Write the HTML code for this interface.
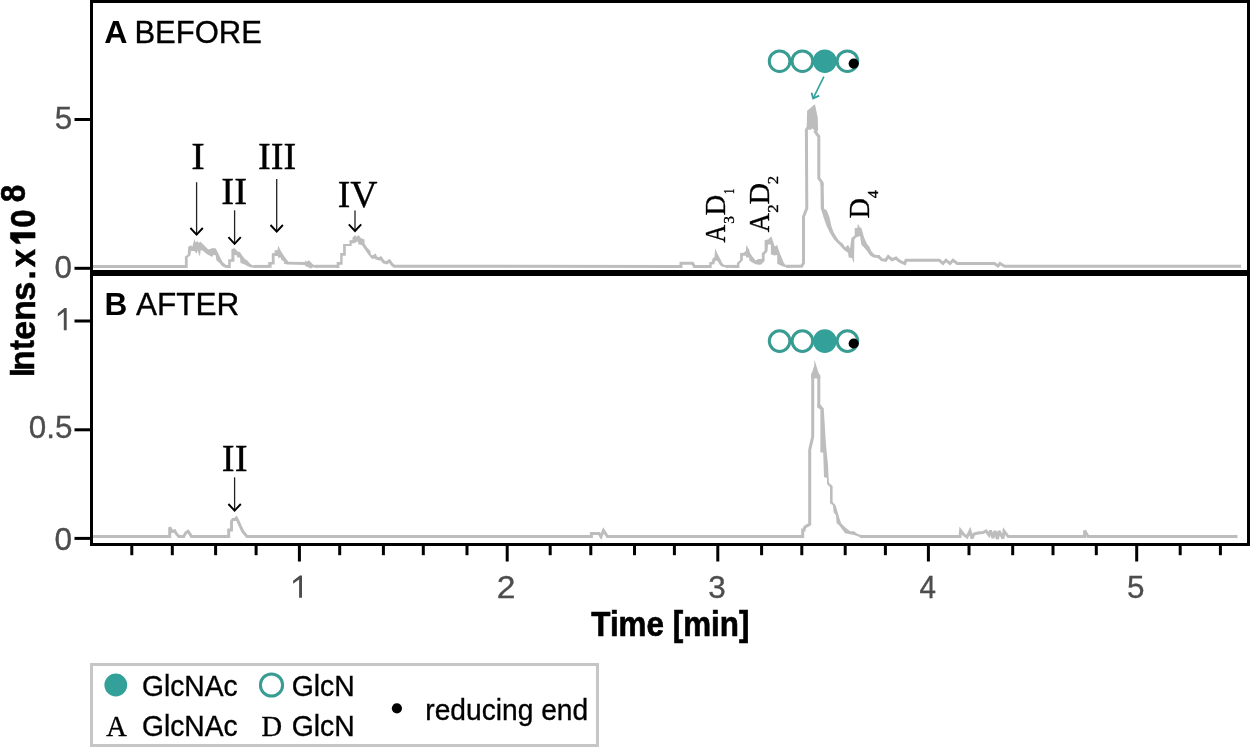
<!DOCTYPE html>
<html><head><meta charset="utf-8"><title>Chromatogram before/after</title>
<style>html,body{margin:0;padding:0;background:#fff;} svg{display:block;}</style>
</head><body>
<svg width="1250" height="747" viewBox="0 0 1250 747" style="will-change:transform">
<rect width="1250" height="747" fill="#fff"/>
<g id="traces"><polyline points="93.0,266.5 186.0,266.5" fill="none" stroke="#bdbdbd" stroke-width="3" stroke-linejoin="miter" stroke-miterlimit="3"/>
<polyline points="226.0,266.5 229.0,266.5" fill="none" stroke="#bdbdbd" stroke-width="3" stroke-linejoin="miter" stroke-miterlimit="3"/>
<polyline points="254.0,266.4 269.0,266.4" fill="none" stroke="#bdbdbd" stroke-width="3" stroke-linejoin="miter" stroke-miterlimit="3"/>
<polyline points="316.0,266.3 337.6,266.3" fill="none" stroke="#bdbdbd" stroke-width="3" stroke-linejoin="miter" stroke-miterlimit="3"/>
<polyline points="372.0,257.5 375.0,255.6 376.0,258.0 379.8,259.0 380.8,258.0 383.6,261.9 386.5,262.8 389.4,260.9 392.3,264.8 394.2,266.3 681.0,266.4 681.0,263.3 692.5,263.3 694.4,266.4 711.0,266.4" fill="none" stroke="#bdbdbd" stroke-width="3" stroke-linejoin="miter" stroke-miterlimit="3"/>
<polyline points="726.0,266.4 738.0,266.4" fill="none" stroke="#bdbdbd" stroke-width="3" stroke-linejoin="miter" stroke-miterlimit="3"/>
<polyline points="786.0,266.3 801.6,266.2 803.5,263.0 803.5,216.7 806.8,208.2 806.4,130.0 808.2,127.0 808.6,111.5 814.0,107.0 816.1,117.3 816.6,129.5 815.2,131.7 818.8,136.6 818.8,178.0 822.0,182.7 822.0,186.0" fill="none" stroke="#bdbdbd" stroke-width="3" stroke-linejoin="miter" stroke-miterlimit="3"/>
<polyline points="878.0,256.8 879.2,257.1 881.8,259.7 885.6,260.3 888.2,256.5 892.0,259.7 896.0,258.0 898.4,260.3 901.0,262.0 904.8,263.5 906.0,260.3 939.4,260.3 943.0,263.5 946.0,260.3 950.0,263.5 953.0,260.3 957.3,263.5 994.4,263.5 998.0,266.0 1000.0,263.5 1004.6,266.3 1241.0,266.3" fill="none" stroke="#bdbdbd" stroke-width="3" stroke-linejoin="miter" stroke-miterlimit="3"/>
<polyline points="93.0,536.6 169.7,536.6 169.7,527.2 171.8,531.4 174.6,530.7 176.7,534.2 178.8,536.6 183.7,536.6 185.8,532.8 188.0,531.4 190.0,534.2 191.5,536.6 228.7,536.6 228.7,530.0 231.5,530.0 231.5,521.5 232.9,519.4 235.0,519.4 236.4,518.0 237.9,520.8 240.0,525.7 242.8,531.4 247.0,536.6 591.4,536.6 591.4,533.4 599.0,533.4 601.0,536.6 603.5,530.5 607.4,536.6 802.7,536.6 802.7,530.0 804.1,530.0 804.8,527.2 806.9,525.8 809.7,524.4 809.7,449.8 812.7,436.7 812.7,376.0 814.4,370.0 818.8,376.0 818.8,405.0 821.0,407.5" fill="none" stroke="#bdbdbd" stroke-width="3" stroke-linejoin="miter" stroke-miterlimit="3"/>
<polyline points="860.0,536.6 960.1,536.6 960.6,530.5 964.0,535.0 967.0,537.0 970.0,531.0 972.0,538.5 974.0,534.0 978.0,533.0 983.0,532.5 986.0,531.0 989.0,535.0 990.5,530.5 993.0,538.0 995.0,531.0 997.5,539.0 999.0,531.0 1003.0,538.5 1004.0,531.0 1008.2,536.6 1084.6,536.6 1084.6,530.5 1088.0,536.6 1237.5,536.6" fill="none" stroke="#bdbdbd" stroke-width="3" stroke-linejoin="miter" stroke-miterlimit="3"/>
<polygon points="184.9,265.0 184.9,256.6 187.7,254.7 188.2,246.7 191.0,245.3 192.4,246.7 194.3,239.2 195.7,242.5 197.5,241.1 198.9,243.0 200.3,241.6 204.1,245.3 208.3,249.5 213.0,248.1 215.8,248.6 218.2,253.3 220.5,258.0 222.8,262.2 226.1,265.0 228.0,265.2 228.0,268.0 225.2,267.8 221.9,265.9 219.6,263.1 216.3,260.3 215.8,255.6 213.5,254.7 212.1,257.0 206.4,253.8 203.2,251.0 200.8,250.0 199.9,256.6 197.5,250.5 196.6,253.8 194.3,251.0 191.0,251.0 190.5,255.2 187.7,257.5 187.7,268.0 184.9,268.0" fill="#bdbdbd"/>
<polygon points="228.2,265.0 228.2,259.3 231.4,259.3 231.4,249.6 234.0,248.0 235.6,249.2 237.6,251.6 240.0,252.0 242.0,255.3 244.9,258.9 247.3,260.5 250.1,263.7 252.5,265.3 256.0,265.2 256.0,268.0 250.1,267.3 246.9,265.7 243.7,264.1 240.5,262.9 240.0,257.7 237.2,257.3 236.8,255.3 234.4,254.9 234.4,261.7 230.8,261.7 230.8,268.0 228.2,268.0" fill="#bdbdbd"/>
<polygon points="268.2,265.3 268.2,262.1 271.8,262.1 271.8,253.3 274.6,252.9 274.6,250.2 277.6,250.0 278.2,245.6 280.0,249.2 282.1,252.9 284.1,256.1 286.5,259.3 288.5,261.8 305.1,261.9 305.4,260.2 306.7,261.8 308.9,260.2 313.4,264.7 318.0,264.9 318.0,267.8 312.1,267.4 311.0,268.8 308.9,267.4 305.1,266.1 305.1,265.0 287.3,264.6 284.1,263.7 283.7,261.3 281.3,260.1 280.9,257.7 278.0,257.7 278.0,256.1 274.6,256.1 274.6,264.5 271.6,264.5 271.6,267.8 268.2,267.8" fill="#bdbdbd"/>
<polygon points="336.0,265.3 336.7,265.3 336.7,262.1 340.2,262.1 340.2,253.0 343.1,253.0 343.1,243.9 349.5,243.9 349.5,240.2 352.5,239.9 352.5,237.5 355.4,235.1 356.5,237.0 358.4,235.1 360.8,238.0 364.5,239.4 364.5,243.4 367.2,247.7 370.4,250.9 370.9,254.6 374.0,256.5 374.0,258.9 371.5,258.4 368.3,254.6 365.1,249.8 361.8,245.0 358.6,244.5 357.6,241.2 354.9,242.9 351.7,243.4 351.7,246.1 345.8,246.1 345.8,255.7 342.6,255.7 342.6,264.8 339.4,264.8 339.4,268.0 336.0,268.0" fill="#bdbdbd"/>
<polygon points="703.0,265.0 709.3,265.0 709.3,262.2 712.1,261.5 712.4,258.7 714.5,257.0 715.2,248.3 716.9,252.4 719.0,256.6 720.8,260.1 722.5,263.6 724.6,265.0 728.0,265.0 728.0,268.0 721.5,266.4 719.4,264.3 718.0,261.5 716.2,260.5 714.8,261.5 714.5,264.3 711.7,264.6 711.7,268.0 703.0,268.0" fill="#bdbdbd"/>
<polygon points="733.0,265.1 736.9,265.1 736.9,263.0 740.1,260.0 740.1,253.1 743.7,252.7 745.9,251.0 746.3,245.0 748.0,248.0 748.9,248.9 750.1,253.1 752.7,257.0 755.7,260.4 758.3,259.1 761.3,259.1 761.8,259.0 761.8,253.2 764.6,250.8 764.6,240.2 768.5,239.2 771.4,236.3 772.8,240.7 774.8,246.5 777.2,245.0 779.1,251.3 781.0,256.1 783.9,262.9 785.9,265.3 790.0,265.3 790.0,268.0 783.9,266.7 780.1,265.3 777.2,263.8 777.2,255.1 774.3,255.6 770.9,254.2 770.9,244.5 768.0,244.5 767.5,251.3 764.6,254.7 764.6,260.9 761.3,264.5 758.7,264.7 755.7,264.3 752.3,262.6 749.3,260.4 749.3,257.4 746.3,257.4 745.9,255.7 742.9,255.7 742.9,260.0 739.4,263.9 739.4,268.0 733.0,268.0" fill="#bdbdbd"/>
<polygon points="808.2,128.0 808.2,110.9 814.0,105.2 816.3,116.8 817.4,117.3 817.4,129.8 814.3,130.0 812.0,128.5 810.6,130.0 808.2,129.5" fill="#bdbdbd"/>
<polygon points="820.5,183.0 823.6,183.0 824.1,208.8 826.7,210.2 829.4,216.9 831.4,226.2 834.0,232.9 838.1,239.6 840.0,241.4 842.7,243.4 845.4,247.4 848.0,244.8 850.0,248.8 851.4,238.1 854.7,235.4 854.7,228.0 857.4,228.0 857.7,223.7 860.0,227.4 861.4,228.0 864.1,237.4 866.8,243.4 869.4,246.8 871.4,251.4 874.8,254.8 880.0,255.3 880.0,258.3 873.4,257.5 870.1,255.5 867.4,251.4 864.1,247.4 861.4,244.8 860.0,236.0 856.0,237.4 854.4,239.4 854.0,263.5 852.0,258.1 848.7,257.5 848.0,252.8 844.0,250.1 840.0,245.4 834.0,239.6 830.0,232.9 826.7,226.2 823.4,216.9 821.4,210.2 820.7,208.8" fill="#bdbdbd"/>
<polygon points="811.1,374.1 814.0,369.7 814.4,359.8 818.8,373.4 820.3,377.0 820.3,378.5 811.1,378.5" fill="#bdbdbd"/>
<polygon points="817.2,404.5 820.0,405.6 823.7,408.0 826.0,445.0 828.0,465.0 828.5,476.0 829.0,483.0 832.6,486.1 832.6,502.1 835.6,505.2 839.1,517.2 841.1,523.2 845.1,527.2 850.1,531.3 854.1,531.3 858.2,534.3 862.0,535.1 862.0,538.1 860.2,537.3 855.1,535.3 850.1,534.3 845.1,533.3 842.1,529.3 839.1,525.2 836.6,523.2 836.0,515.2 833.6,512.2 833.0,505.2 830.0,503.2 830.0,487.0 827.0,484.0 827.0,478.0 824.0,477.0 823.2,452.5 820.4,452.5 820.4,409.4 817.2,407.5" fill="#bdbdbd"/></g>
<rect x="90" y="0" width="1160" height="3" fill="#000"/>
<rect x="90" y="0" width="3" height="546" fill="#000"/>
<rect x="1247" y="0" width="3" height="546" fill="#000"/>
<rect x="90" y="270" width="1160" height="6" fill="#000"/>
<rect x="90" y="543" width="1160" height="3" fill="#000"/>
<rect x="74.5" y="118.0" width="16" height="3" fill="#000"/>
<rect x="74.5" y="266.8" width="16" height="3" fill="#000"/>
<rect x="74.5" y="319.5" width="16" height="3" fill="#000"/>
<rect x="74.5" y="428.3" width="16" height="3" fill="#000"/>
<rect x="74.5" y="536.9" width="16" height="3" fill="#000"/>
<rect x="130.3" y="546" width="3" height="9.2" fill="#000"/>
<rect x="170.8" y="546" width="3" height="9.2" fill="#000"/>
<rect x="214.1" y="546" width="3" height="9.2" fill="#000"/>
<rect x="254.6" y="546" width="3" height="9.2" fill="#000"/>
<rect x="297.9" y="546" width="3" height="15.5" fill="#000"/>
<rect x="338.2" y="546" width="3" height="9.2" fill="#000"/>
<rect x="381.9" y="546" width="3" height="9.2" fill="#000"/>
<rect x="421.8" y="546" width="3" height="9.2" fill="#000"/>
<rect x="465.5" y="546" width="3" height="9.2" fill="#000"/>
<rect x="505.7" y="546" width="3" height="15.5" fill="#000"/>
<rect x="548.7" y="546" width="3" height="9.2" fill="#000"/>
<rect x="589.3" y="546" width="3" height="9.2" fill="#000"/>
<rect x="633.0" y="546" width="3" height="9.2" fill="#000"/>
<rect x="672.9" y="546" width="3" height="9.2" fill="#000"/>
<rect x="716.3" y="546" width="3" height="15.5" fill="#000"/>
<rect x="760.1" y="546" width="3" height="9.2" fill="#000"/>
<rect x="800.3" y="546" width="3" height="9.2" fill="#000"/>
<rect x="843.7" y="546" width="3" height="9.2" fill="#000"/>
<rect x="883.9" y="546" width="3" height="9.2" fill="#000"/>
<rect x="926.9" y="546" width="3" height="15.5" fill="#000"/>
<rect x="967.5" y="546" width="3" height="9.2" fill="#000"/>
<rect x="1011.2" y="546" width="3" height="9.2" fill="#000"/>
<rect x="1051.5" y="546" width="3" height="9.2" fill="#000"/>
<rect x="1094.8" y="546" width="3" height="9.2" fill="#000"/>
<rect x="1135.2" y="546" width="3" height="15.5" fill="#000"/>
<rect x="1178.7" y="546" width="3" height="9.2" fill="#000"/>
<rect x="1218.9" y="546" width="3" height="9.2" fill="#000"/>
<line x1="196.6" y1="182.2" x2="196.6" y2="233.79999999999998" stroke="#222" stroke-width="1.3"/><polyline points="190.4,228.0 196.6,234.6 202.79999999999998,228.0" fill="none" stroke="#000" stroke-width="1.9" stroke-linejoin="miter"/>
<line x1="234.6" y1="210.3" x2="234.6" y2="243.0" stroke="#222" stroke-width="1.3"/><polyline points="228.4,237.20000000000002 234.6,243.8 240.79999999999998,237.20000000000002" fill="none" stroke="#000" stroke-width="1.9" stroke-linejoin="miter"/>
<line x1="276.7" y1="179.0" x2="276.7" y2="230.79999999999998" stroke="#222" stroke-width="1.3"/><polyline points="270.5,225.0 276.7,231.6 282.9,225.0" fill="none" stroke="#000" stroke-width="1.9" stroke-linejoin="miter"/>
<line x1="355.0" y1="210.6" x2="355.0" y2="230.2" stroke="#222" stroke-width="1.3"/><polyline points="348.8,224.4 355.0,231.0 361.2,224.4" fill="none" stroke="#000" stroke-width="1.9" stroke-linejoin="miter"/>
<line x1="234.6" y1="477.3" x2="234.6" y2="509.8" stroke="#222" stroke-width="1.3"/><polyline points="228.4,504.0 234.6,510.6 240.79999999999998,504.0" fill="none" stroke="#000" stroke-width="1.9" stroke-linejoin="miter"/>
<circle cx="779.6" cy="61.2" r="10.3" fill="#fff" stroke="#389c93" stroke-width="3"/>
<circle cx="802.4" cy="61.2" r="10.3" fill="#fff" stroke="#389c93" stroke-width="3"/>
<circle cx="824.8" cy="61.2" r="11.8" fill="#33a09a"/>
<circle cx="847.4" cy="61.2" r="10.3" fill="#fff" stroke="#389c93" stroke-width="3"/>
<circle cx="853.7" cy="63.6" r="5.1" fill="#000"/>
<circle cx="779.6" cy="341.1" r="10.3" fill="#fff" stroke="#389c93" stroke-width="3"/>
<circle cx="802.4" cy="341.1" r="10.3" fill="#fff" stroke="#389c93" stroke-width="3"/>
<circle cx="824.8" cy="341.1" r="11.8" fill="#33a09a"/>
<circle cx="847.4" cy="341.1" r="10.3" fill="#fff" stroke="#389c93" stroke-width="3"/>
<circle cx="853.7" cy="343.5" r="5.1" fill="#000"/>
<line x1="823.9" y1="76.6" x2="813.6" y2="97.4" stroke="#33a09a" stroke-width="1.6"/><polyline points="811.6,92.8 813.1,98.4 819.2,95.6" fill="none" stroke="#33a09a" stroke-width="1.8"/>
<rect x="91.5" y="664.5" width="506" height="81" fill="none" stroke="#c6c6c6" stroke-width="3"/><circle cx="115.8" cy="685" r="11.4" fill="#33a09a"/><circle cx="271.5" cy="685" r="11.1" fill="none" stroke="#389c93" stroke-width="3"/><circle cx="396.9" cy="708.3" r="5.1" fill="#000"/>
<text transform="translate(104.35,43.10) scale(1.0047,1)" font-family="'Liberation Sans', sans-serif" font-size="32" font-weight="bold" fill="#000">A</text>
<text transform="translate(134.38,43.10) scale(0.9691,1)" font-family="'Liberation Sans', sans-serif" font-size="32" font-weight="normal" fill="#000" stroke="#000" stroke-width="0.35">BEFORE</text>
<text transform="translate(104.53,314.80) scale(0.9873,1)" font-family="'Liberation Sans', sans-serif" font-size="32" font-weight="bold" fill="#000">B</text>
<text transform="translate(136.00,314.80) scale(0.9840,1)" font-family="'Liberation Sans', sans-serif" font-size="32" font-weight="normal" fill="#000" stroke="#000" stroke-width="0.35">AFTER</text>
<text transform="translate(54.77,128.50) scale(0.9836,1)" font-family="'Liberation Sans', sans-serif" font-size="32" font-weight="normal" fill="#4d4d4d" stroke="#4d4d4d" stroke-width="0.35">5</text>
<text transform="translate(54.47,277.50) scale(0.9806,1)" font-family="'Liberation Sans', sans-serif" font-size="32" font-weight="normal" fill="#4d4d4d" stroke="#4d4d4d" stroke-width="0.35">0</text>
<text transform="translate(28.67,437.50) scale(0.9833,1)" font-family="'Liberation Sans', sans-serif" font-size="32" font-weight="normal" fill="#4d4d4d" stroke="#4d4d4d" stroke-width="0.35">0.5</text>
<text transform="translate(54.47,549.50) scale(0.9871,1)" font-family="'Liberation Sans', sans-serif" font-size="32" font-weight="normal" fill="#4d4d4d" stroke="#4d4d4d" stroke-width="0.35">0</text>
<text transform="translate(496.72,597.70) scale(1.0508,1)" font-family="'Liberation Sans', sans-serif" font-size="32" font-weight="normal" fill="#4d4d4d" stroke="#4d4d4d" stroke-width="0.35">2</text>
<text transform="translate(708.37,597.50) scale(0.9836,1)" font-family="'Liberation Sans', sans-serif" font-size="32" font-weight="normal" fill="#4d4d4d" stroke="#4d4d4d" stroke-width="0.35">3</text>
<text transform="translate(919.44,597.70) scale(0.9273,1)" font-family="'Liberation Sans', sans-serif" font-size="32" font-weight="normal" fill="#4d4d4d" stroke="#4d4d4d" stroke-width="0.35">4</text>
<text transform="translate(1126.97,597.50) scale(0.9836,1)" font-family="'Liberation Sans', sans-serif" font-size="32" font-weight="normal" fill="#4d4d4d" stroke="#4d4d4d" stroke-width="0.35">5</text>
<text transform="translate(591.28,636.00) scale(0.8843,1)" font-family="'Liberation Sans', sans-serif" font-size="35.5" font-weight="bold" fill="#000" stroke="#000" stroke-width="0.7">Time [min]</text>
<text transform="translate(141.99,696.40) scale(0.9407,1)" font-family="'Liberation Sans', sans-serif" font-size="30" font-weight="normal" fill="#000" stroke="#000" stroke-width="0.35">GlcNAc</text>
<text transform="translate(291.78,696.40) scale(0.9450,1)" font-family="'Liberation Sans', sans-serif" font-size="30" font-weight="normal" fill="#000" stroke="#000" stroke-width="0.35">GlcN</text>
<text transform="translate(141.99,736.40) scale(0.9407,1)" font-family="'Liberation Sans', sans-serif" font-size="30" font-weight="normal" fill="#000" stroke="#000" stroke-width="0.35">GlcNAc</text>
<text transform="translate(291.78,736.40) scale(0.9450,1)" font-family="'Liberation Sans', sans-serif" font-size="30" font-weight="normal" fill="#000" stroke="#000" stroke-width="0.35">GlcN</text>
<text transform="translate(425.32,719.60) scale(0.9392,1)" font-family="'Liberation Sans', sans-serif" font-size="30" font-weight="normal" fill="#000" stroke="#000" stroke-width="0.35">reducing end</text>
<text transform="translate(106.35,736.40) scale(0.9975,1)" font-family="'Liberation Serif', serif" font-size="28.5" font-weight="normal" fill="#000" stroke="#000" stroke-width="0.35">A</text>
<text transform="translate(261.45,736.40) scale(1.0027,1)" font-family="'Liberation Serif', serif" font-size="28.5" font-weight="normal" fill="#000" stroke="#000" stroke-width="0.35">D</text>
<text transform="translate(191.18,168.90) scale(1.0537,1)" font-family="'Liberation Serif', serif" font-size="38.5" font-weight="normal" fill="#000" stroke="#000" stroke-width="0.35">I</text>
<text transform="translate(221.35,204.20) scale(1.0022,1)" font-family="'Liberation Serif', serif" font-size="38.5" font-weight="normal" fill="#000" stroke="#000" stroke-width="0.35">II</text>
<text transform="translate(257.96,168.90) scale(0.9917,1)" font-family="'Liberation Serif', serif" font-size="38.5" font-weight="normal" fill="#000" stroke="#000" stroke-width="0.35">III</text>
<text transform="translate(337.68,206.60) scale(0.9795,1)" font-family="'Liberation Serif', serif" font-size="38.5" font-weight="normal" fill="#000" stroke="#000" stroke-width="0.35">IV</text>
<text transform="translate(221.85,470.60) scale(0.9978,1)" font-family="'Liberation Serif', serif" font-size="38.5" font-weight="normal" fill="#000" stroke="#000" stroke-width="0.35">II</text>
<text transform="translate(34.30,377.06) rotate(-90) scale(0.9143,1)" font-family="'Liberation Sans', sans-serif" font-size="34.5" font-weight="bold" fill="#000" stroke="#000" stroke-width="0.5">I</text>
<text transform="translate(34.30,370.76) rotate(-90) scale(0.9612,1)" font-family="'Liberation Sans', sans-serif" font-size="34.5" font-weight="bold" fill="#000" stroke="#000" stroke-width="0.5">n</text>
<text transform="translate(34.30,349.92) rotate(-90) scale(0.8727,1)" font-family="'Liberation Sans', sans-serif" font-size="34.5" font-weight="bold" fill="#000" stroke="#000" stroke-width="0.5">t</text>
<text transform="translate(34.50,339.73) rotate(-90) scale(0.9851,1)" font-family="'Liberation Sans', sans-serif" font-size="34.5" font-weight="bold" fill="#000" stroke="#000" stroke-width="0.5">e</text>
<text transform="translate(34.50,321.04) rotate(-90) scale(0.9970,1)" font-family="'Liberation Sans', sans-serif" font-size="34.5" font-weight="bold" fill="#000" stroke="#000" stroke-width="0.5">n</text>
<text transform="translate(34.70,300.97) rotate(-90) scale(1.0121,1)" font-family="'Liberation Sans', sans-serif" font-size="34.5" font-weight="bold" fill="#000" stroke="#000" stroke-width="0.5">s</text>
<text transform="translate(34.70,279.46) rotate(-90) scale(0.9600,1)" font-family="'Liberation Sans', sans-serif" font-size="34.5" font-weight="bold" fill="#000" stroke="#000" stroke-width="0.5">.</text>
<text transform="translate(34.70,267.14) rotate(-90) scale(0.9568,1)" font-family="'Liberation Sans', sans-serif" font-size="34.5" font-weight="bold" fill="#000" stroke="#000" stroke-width="0.5">x</text>
<text transform="translate(35.10,227.70) rotate(-90) scale(0.9576,1)" font-family="'Liberation Sans', sans-serif" font-size="34.5" font-weight="bold" fill="#000" stroke="#000" stroke-width="0.5">0</text>
<text transform="translate(24.90,202.22) rotate(-90) scale(0.9159,1)" font-family="'Liberation Sans', sans-serif" font-size="34.5" font-weight="bold" fill="#000" stroke="#000" stroke-width="0.5">8</text>
<text transform="translate(725.10,242.51) rotate(-90) scale(0.8439,1)" font-family="'Liberation Serif', serif" font-size="29" font-weight="normal" fill="#000" stroke="#000" stroke-width="0.35">A</text>
<text transform="translate(733.70,223.85) rotate(-90) scale(1.0000,1)" font-family="'Liberation Serif', serif" font-size="15.5" font-weight="normal" fill="#000" stroke="#000" stroke-width="0.35">3</text>
<text transform="translate(725.10,215.44) rotate(-90) scale(0.9895,1)" font-family="'Liberation Serif', serif" font-size="29" font-weight="normal" fill="#000" stroke="#000" stroke-width="0.35">D</text>
<text transform="translate(733.90,193.94) rotate(-90) scale(0.6727,1)" font-family="'Liberation Serif', serif" font-size="15.5" font-weight="normal" fill="#000" stroke="#000" stroke-width="0.35">1</text>
<text transform="translate(768.90,232.13) rotate(-90) scale(0.9171,1)" font-family="'Liberation Serif', serif" font-size="29" font-weight="normal" fill="#000" stroke="#000" stroke-width="0.35">A</text>
<text transform="translate(777.80,212.75) rotate(-90) scale(1.0923,1)" font-family="'Liberation Serif', serif" font-size="15.5" font-weight="normal" fill="#000" stroke="#000" stroke-width="0.35">2</text>
<text transform="translate(768.90,204.47) rotate(-90) scale(1.0316,1)" font-family="'Liberation Serif', serif" font-size="29" font-weight="normal" fill="#000" stroke="#000" stroke-width="0.35">D</text>
<text transform="translate(777.80,184.14) rotate(-90) scale(1.0769,1)" font-family="'Liberation Serif', serif" font-size="15.5" font-weight="normal" fill="#000" stroke="#000" stroke-width="0.35">2</text>
<text transform="translate(868.80,218.43) rotate(-90) scale(0.9737,1)" font-family="'Liberation Serif', serif" font-size="29" font-weight="normal" fill="#000" stroke="#000" stroke-width="0.35">D</text>
<text transform="translate(877.70,198.16) rotate(-90) scale(1.0345,1)" font-family="'Liberation Serif', serif" font-size="15.5" font-weight="normal" fill="#000" stroke="#000" stroke-width="0.35">4</text>
<path transform="translate(0.00,0.00)" d="M299.1,597.7 L302,597.7 L302,575.4 L299.8,575.4 L293.1,580.8 L293.1,583.8 L299.1,579.4 Z" fill="#4d4d4d"/><path transform="translate(-235.30,-267.40)" d="M299.1,597.7 L302,597.7 L302,575.4 L299.8,575.4 L293.1,580.8 L293.1,583.8 L299.1,579.4 Z" fill="#4d4d4d"/><path d="M10.4,232.6 L35.1,232.6 L35.1,238 L17.6,238 L20.6,243.6 L16.2,243.6 L10.4,238.6 Z" fill="#000" stroke="#000" stroke-width="0.5"/>
</svg>
</body></html>
